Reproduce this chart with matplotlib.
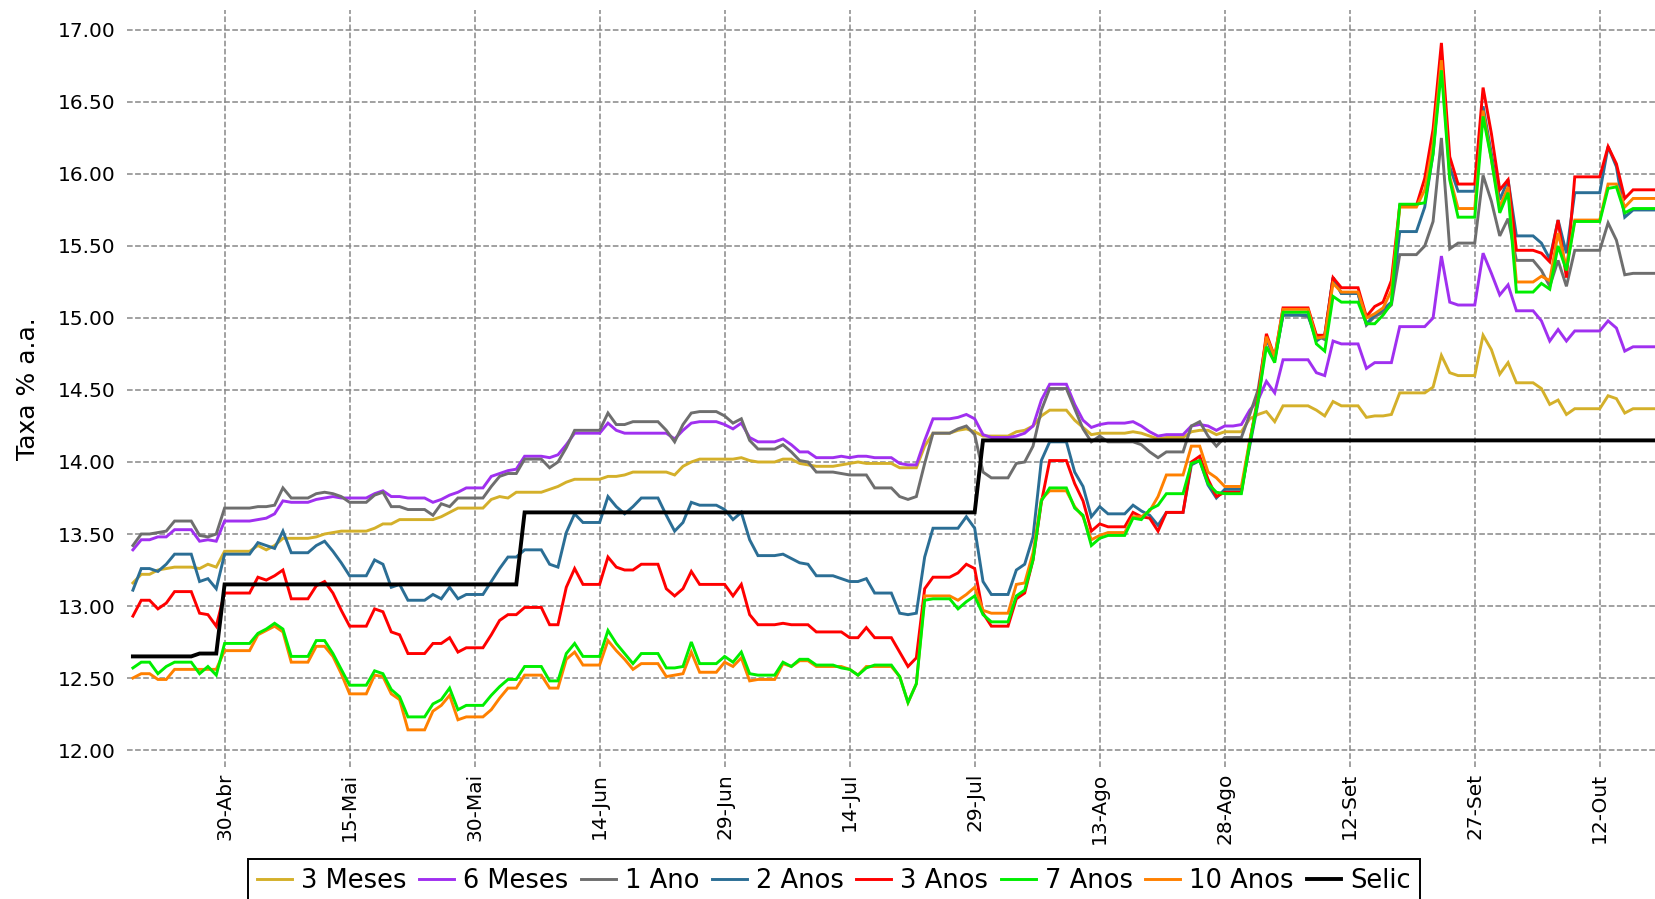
import matplotlib
matplotlib.use("Agg")
import matplotlib.pyplot as plt
import pandas as pd

# ---------------- data (daily, 2015-04-19 .. 2015-10-19) ----------------
start_date = "2015-04-19"
end_date = "2015-10-19"

meses3 = [
    13.16, 13.22, 13.22, 13.25, 13.26, 13.27, 13.27,
    13.27, 13.26, 13.29, 13.27, 13.38, 13.38, 13.38,
    13.38, 13.42, 13.39, 13.42, 13.47, 13.47, 13.47,
    13.47, 13.48, 13.50, 13.51, 13.52, 13.52, 13.52,
    13.52, 13.54, 13.57, 13.57, 13.60, 13.60, 13.60,
    13.60, 13.60, 13.62, 13.65, 13.68, 13.68, 13.68,
    13.68, 13.74, 13.76, 13.75, 13.79, 13.79, 13.79,
    13.79, 13.81, 13.83, 13.86, 13.88, 13.88, 13.88,
    13.88, 13.90, 13.90, 13.91, 13.93, 13.93, 13.93,
    13.93, 13.93, 13.91, 13.97, 14.00, 14.02, 14.02,
    14.02, 14.02, 14.02, 14.03, 14.01, 14.00, 14.00,
    14.00, 14.02, 14.02, 13.99, 13.98, 13.97, 13.97,
    13.97, 13.98, 13.99, 14.00, 13.99, 13.99, 13.99,
    13.99, 13.96, 13.96, 13.96, 14.11, 14.20, 14.20,
    14.20, 14.22, 14.23, 14.21, 14.18, 14.18, 14.18,
    14.18, 14.21, 14.22, 14.25, 14.32, 14.36, 14.36,
    14.36, 14.29, 14.24, 14.19, 14.20, 14.20, 14.20,
    14.20, 14.21, 14.20, 14.18, 14.16, 14.17, 14.17,
    14.17, 14.21, 14.22, 14.22, 14.19, 14.21, 14.21,
    14.21, 14.30, 14.33, 14.35, 14.28, 14.39, 14.39,
    14.39, 14.39, 14.36, 14.32, 14.42, 14.39, 14.39,
    14.39, 14.31, 14.32, 14.32, 14.33, 14.48, 14.48,
    14.48, 14.48, 14.52, 14.74, 14.62, 14.60, 14.60,
    14.60, 14.88, 14.78, 14.61, 14.69, 14.55, 14.55,
    14.55, 14.51, 14.40, 14.43, 14.33, 14.37, 14.37,
    14.37, 14.37, 14.46, 14.44, 14.34, 14.37, 14.37,
    14.37, 14.37,
]

meses6 = [
    13.39, 13.46, 13.46, 13.48, 13.48, 13.53, 13.53,
    13.53, 13.45, 13.46, 13.45, 13.59, 13.59, 13.59,
    13.59, 13.60, 13.61, 13.64, 13.73, 13.72, 13.72,
    13.72, 13.74, 13.75, 13.76, 13.75, 13.75, 13.75,
    13.75, 13.78, 13.80, 13.76, 13.76, 13.75, 13.75,
    13.75, 13.72, 13.74, 13.77, 13.79, 13.82, 13.82,
    13.82, 13.90, 13.92, 13.94, 13.95, 14.04, 14.04,
    14.04, 14.03, 14.05, 14.12, 14.20, 14.20, 14.20,
    14.20, 14.27, 14.22, 14.20, 14.20, 14.20, 14.20,
    14.20, 14.20, 14.16, 14.22, 14.27, 14.28, 14.28,
    14.28, 14.26, 14.23, 14.27, 14.17, 14.14, 14.14,
    14.14, 14.16, 14.12, 14.07, 14.07, 14.03, 14.03,
    14.03, 14.04, 14.03, 14.04, 14.04, 14.03, 14.03,
    14.03, 13.99, 13.98, 13.98, 14.15, 14.30, 14.30,
    14.30, 14.31, 14.33, 14.30, 14.19, 14.17, 14.17,
    14.17, 14.18, 14.20, 14.25, 14.43, 14.54, 14.54,
    14.54, 14.40, 14.29, 14.24, 14.26, 14.27, 14.27,
    14.27, 14.28, 14.25, 14.21, 14.18, 14.19, 14.19,
    14.19, 14.25, 14.26, 14.25, 14.22, 14.25, 14.25,
    14.26, 14.36, 14.43, 14.56, 14.48, 14.71, 14.71,
    14.71, 14.71, 14.62, 14.60, 14.84, 14.82, 14.82,
    14.82, 14.65, 14.69, 14.69, 14.69, 14.94, 14.94,
    14.94, 14.94, 15.00, 15.43, 15.11, 15.09, 15.09,
    15.09, 15.45, 15.31, 15.16, 15.23, 15.05, 15.05,
    15.05, 14.98, 14.84, 14.92, 14.84, 14.91, 14.91,
    14.91, 14.91, 14.98, 14.93, 14.77, 14.80, 14.80,
    14.80, 14.80,
]

ano1 = [
    13.42, 13.50, 13.50, 13.51, 13.52, 13.59, 13.59,
    13.59, 13.49, 13.48, 13.50, 13.68, 13.68, 13.68,
    13.68, 13.69, 13.69, 13.70, 13.82, 13.75, 13.75,
    13.75, 13.78, 13.79, 13.78, 13.76, 13.72, 13.72,
    13.72, 13.77, 13.79, 13.69, 13.69, 13.67, 13.67,
    13.67, 13.63, 13.71, 13.69, 13.75, 13.75, 13.75,
    13.75, 13.83, 13.90, 13.92, 13.92, 14.02, 14.02,
    14.02, 13.96, 14.00, 14.10, 14.22, 14.22, 14.22,
    14.22, 14.34, 14.26, 14.26, 14.28, 14.28, 14.28,
    14.28, 14.22, 14.14, 14.26, 14.34, 14.35, 14.35,
    14.35, 14.32, 14.27, 14.30, 14.15, 14.09, 14.09,
    14.09, 14.12, 14.07, 14.01, 14.00, 13.93, 13.93,
    13.93, 13.92, 13.91, 13.91, 13.91, 13.82, 13.82,
    13.82, 13.76, 13.74, 13.76, 13.99, 14.20, 14.20,
    14.20, 14.23, 14.25, 14.19, 13.93, 13.89, 13.89,
    13.89, 13.99, 14.00, 14.11, 14.36, 14.51, 14.51,
    14.51, 14.37, 14.23, 14.14, 14.18, 14.14, 14.14,
    14.14, 14.14, 14.12, 14.07, 14.03, 14.07, 14.07,
    14.07, 14.25, 14.28, 14.18, 14.11, 14.17, 14.17,
    14.17, 14.33, 14.50, 14.86, 14.72, 15.02, 15.02,
    15.02, 15.01, 14.88, 14.85, 15.28, 15.17, 15.17,
    15.17, 14.95, 15.01, 15.04, 15.09, 15.44, 15.44,
    15.44, 15.50, 15.67, 16.25, 15.48, 15.52, 15.52,
    15.52, 15.99, 15.81, 15.57, 15.69, 15.40, 15.40,
    15.40, 15.33, 15.22, 15.40, 15.22, 15.47, 15.47,
    15.47, 15.47, 15.66, 15.54, 15.30, 15.31, 15.31,
    15.31, 15.31,
]

anos2 = [
    13.11, 13.26, 13.26, 13.24, 13.29, 13.36, 13.36,
    13.36, 13.17, 13.19, 13.12, 13.36, 13.36, 13.36,
    13.36, 13.44, 13.42, 13.40, 13.52, 13.37, 13.37,
    13.37, 13.42, 13.45, 13.38, 13.30, 13.21, 13.21,
    13.21, 13.32, 13.29, 13.13, 13.15, 13.04, 13.04,
    13.04, 13.08, 13.05, 13.13, 13.05, 13.08, 13.08,
    13.08, 13.17, 13.26, 13.34, 13.34, 13.39, 13.39,
    13.39, 13.29, 13.27, 13.51, 13.64, 13.58, 13.58,
    13.58, 13.76, 13.69, 13.64, 13.69, 13.75, 13.75,
    13.75, 13.63, 13.52, 13.58, 13.72, 13.70, 13.70,
    13.70, 13.67, 13.60, 13.65, 13.46, 13.35, 13.35,
    13.35, 13.36, 13.33, 13.30, 13.29, 13.21, 13.21,
    13.21, 13.19, 13.17, 13.17, 13.19, 13.09, 13.09,
    13.09, 12.95, 12.94, 12.95, 13.34, 13.54, 13.54,
    13.54, 13.54, 13.62, 13.54, 13.17, 13.08, 13.08,
    13.08, 13.25, 13.29, 13.48, 14.01, 14.14, 14.14,
    14.14, 13.93, 13.83, 13.62, 13.69, 13.64, 13.64,
    13.64, 13.70, 13.66, 13.63, 13.56, 13.65, 13.65,
    13.65, 13.98, 14.01, 13.84, 13.75, 13.81, 13.81,
    13.81, 14.11, 14.41, 14.86, 14.71, 15.02, 15.02,
    15.02, 15.02, 14.84, 14.88, 15.28, 15.17, 15.17,
    15.17, 14.96, 15.02, 15.06, 15.11, 15.60, 15.60,
    15.60, 15.77, 16.14, 16.80, 16.05, 15.88, 15.88,
    15.88, 16.47, 16.14, 15.82, 15.96, 15.57, 15.57,
    15.57, 15.52, 15.41, 15.68, 15.45, 15.87, 15.87,
    15.87, 15.87, 16.19, 16.05, 15.70, 15.75, 15.75,
    15.75, 15.75,
]

anos3 = [
    12.93, 13.04, 13.04, 12.98, 13.02, 13.10, 13.10,
    13.10, 12.95, 12.94, 12.86, 13.09, 13.09, 13.09,
    13.09, 13.20, 13.18, 13.21, 13.25, 13.05, 13.05,
    13.05, 13.14, 13.17, 13.09, 12.97, 12.86, 12.86,
    12.86, 12.98, 12.96, 12.82, 12.80, 12.67, 12.67,
    12.67, 12.74, 12.74, 12.78, 12.68, 12.71, 12.71,
    12.71, 12.80, 12.90, 12.94, 12.94, 12.99, 12.99,
    12.99, 12.87, 12.87, 13.13, 13.26, 13.15, 13.15,
    13.15, 13.34, 13.27, 13.25, 13.25, 13.29, 13.29,
    13.29, 13.12, 13.07, 13.12, 13.24, 13.15, 13.15,
    13.15, 13.15, 13.07, 13.15, 12.94, 12.87, 12.87,
    12.87, 12.88, 12.87, 12.87, 12.87, 12.82, 12.82,
    12.82, 12.82, 12.78, 12.78, 12.85, 12.78, 12.78,
    12.78, 12.68, 12.58, 12.64, 13.12, 13.20, 13.20,
    13.20, 13.23, 13.29, 13.26, 12.95, 12.86, 12.86,
    12.86, 13.05, 13.09, 13.32, 13.72, 14.01, 14.01,
    14.01, 13.85, 13.73, 13.52, 13.57, 13.55, 13.55,
    13.55, 13.65, 13.62, 13.61, 13.52, 13.65, 13.65,
    13.65, 14.00, 14.04, 13.88, 13.76, 13.79, 13.79,
    13.79, 14.14, 14.45, 14.89, 14.73, 15.07, 15.07,
    15.07, 15.07, 14.88, 14.88, 15.28, 15.21, 15.21,
    15.21, 15.01, 15.08, 15.11, 15.26, 15.78, 15.78,
    15.78, 15.97, 16.31, 16.91, 16.12, 15.93, 15.93,
    15.93, 16.60, 16.28, 15.89, 15.96, 15.47, 15.47,
    15.47, 15.45, 15.39, 15.68, 15.28, 15.98, 15.98,
    15.98, 15.98, 16.19, 16.07, 15.83, 15.89, 15.89,
    15.89, 15.89,
]

anos7 = [
    12.57, 12.61, 12.61, 12.53, 12.58, 12.61, 12.61,
    12.61, 12.53, 12.58, 12.52, 12.74, 12.74, 12.74,
    12.74, 12.81, 12.84, 12.88, 12.84, 12.65, 12.65,
    12.65, 12.76, 12.76, 12.67, 12.56, 12.45, 12.45,
    12.45, 12.55, 12.53, 12.42, 12.37, 12.23, 12.23,
    12.23, 12.32, 12.35, 12.43, 12.28, 12.31, 12.31,
    12.31, 12.38, 12.44, 12.49, 12.49, 12.58, 12.58,
    12.58, 12.48, 12.48, 12.67, 12.74, 12.65, 12.65,
    12.65, 12.83, 12.74, 12.67, 12.60, 12.67, 12.67,
    12.67, 12.57, 12.57, 12.58, 12.75, 12.60, 12.60,
    12.60, 12.65, 12.61, 12.68, 12.53, 12.52, 12.52,
    12.52, 12.61, 12.58, 12.63, 12.63, 12.59, 12.59,
    12.59, 12.57, 12.56, 12.52, 12.57, 12.59, 12.59,
    12.59, 12.51, 12.33, 12.46, 13.04, 13.05, 13.05,
    13.05, 12.98, 13.03, 13.07, 12.94, 12.89, 12.89,
    12.89, 13.07, 13.11, 13.32, 13.73, 13.82, 13.82,
    13.82, 13.68, 13.63, 13.42, 13.47, 13.49, 13.49,
    13.49, 13.61, 13.60, 13.67, 13.70, 13.78, 13.78,
    13.78, 13.99, 14.01, 13.85, 13.79, 13.78, 13.78,
    13.78, 14.13, 14.43, 14.80, 14.69, 15.04, 15.04,
    15.04, 15.04, 14.82, 14.77, 15.15, 15.11, 15.11,
    15.11, 14.96, 14.96, 15.02, 15.10, 15.79, 15.79,
    15.79, 15.80, 16.14, 16.72, 15.96, 15.70, 15.70,
    15.70, 16.40, 16.10, 15.73, 15.87, 15.18, 15.18,
    15.18, 15.24, 15.20, 15.50, 15.33, 15.67, 15.67,
    15.67, 15.67, 15.90, 15.91, 15.73, 15.76, 15.76,
    15.76, 15.76,
]

anos10 = [
    12.50, 12.53, 12.53, 12.49, 12.49, 12.56, 12.56,
    12.56, 12.56, 12.56, 12.56, 12.69, 12.69, 12.69,
    12.69, 12.80, 12.83, 12.86, 12.82, 12.61, 12.61,
    12.61, 12.72, 12.72, 12.65, 12.53, 12.39, 12.39,
    12.39, 12.52, 12.51, 12.39, 12.35, 12.14, 12.14,
    12.14, 12.27, 12.31, 12.38, 12.21, 12.23, 12.23,
    12.23, 12.28, 12.36, 12.43, 12.43, 12.52, 12.52,
    12.52, 12.43, 12.43, 12.63, 12.68, 12.59, 12.59,
    12.59, 12.76, 12.69, 12.63, 12.56, 12.60, 12.60,
    12.60, 12.51, 12.52, 12.53, 12.68, 12.54, 12.54,
    12.54, 12.61, 12.58, 12.64, 12.48, 12.49, 12.49,
    12.49, 12.60, 12.58, 12.62, 12.62, 12.58, 12.58,
    12.58, 12.58, 12.56, 12.52, 12.58, 12.58, 12.58,
    12.58, 12.51, 12.33, 12.46, 13.07, 13.07, 13.07,
    13.07, 13.04, 13.08, 13.13, 12.97, 12.95, 12.95,
    12.95, 13.15, 13.16, 13.37, 13.74, 13.80, 13.80,
    13.80, 13.69, 13.62, 13.46, 13.49, 13.51, 13.51,
    13.51, 13.62, 13.62, 13.66, 13.76, 13.91, 13.91,
    13.91, 14.11, 14.11, 13.93, 13.89, 13.83, 13.83,
    13.83, 14.15, 14.43, 14.87, 14.73, 15.06, 15.06,
    15.06, 15.06, 14.86, 14.87, 15.24, 15.18, 15.18,
    15.18, 15.00, 15.03, 15.07, 15.19, 15.77, 15.77,
    15.77, 15.89, 16.21, 16.79, 15.98, 15.76, 15.76,
    15.76, 16.44, 16.10, 15.77, 15.91, 15.25, 15.25,
    15.25, 15.29, 15.26, 15.59, 15.35, 15.68, 15.68,
    15.68, 15.68, 15.93, 15.93, 15.77, 15.83, 15.83,
    15.83, 15.83,
]

selic = [12.65] * 8 + [12.67] * 3 + [13.15] * 36 + [13.65] * 55 + [14.15] * 82

series_labels = ["3 Meses", "6 Meses", "1 Ano", "2 Anos", "3 Anos", "7 Anos", "10 Anos", "Selic"]
series_colors = ["#d4b02a", "#a030f0", "#6e6e6e", "#2b6e95", "#ff0000", "#00ee00", "#ff8000", "#000000"]

xtick_dates = ["2015-04-30", "2015-05-15", "2015-05-30", "2015-06-14", "2015-06-29", "2015-07-14",
               "2015-07-29", "2015-08-13", "2015-08-28", "2015-09-12", "2015-09-27", "2015-10-12"]
xtick_labels = ["30-Abr", "15-Mai", "30-Mai", "14-Jun", "29-Jun", "14-Jul",
                "29-Jul", "13-Ago", "28-Ago", "12-Set", "27-Set", "12-Out"]
ytick_values = [12.0, 12.5, 13.0, 13.5, 14.0, 14.5, 15.0, 15.5, 16.0, 16.5, 17.0]

# ---------------- figure ----------------
W, H = 1656, 899
fig = plt.figure(figsize=(W / 100, H / 100), dpi=100)
ax_left_px, ax_right_px = 127, 1664
ax_top_px, ax_bot_px = 9.8, 767.3
ax = fig.add_axes([ax_left_px / W, 1 - ax_bot_px / H,
                   (ax_right_px - ax_left_px) / W, (ax_bot_px - ax_top_px) / H])

dates = pd.date_range(start_date, end_date, freq="D")
all_series = [meses3, meses6, ano1, anos2, anos3, anos7, anos10, selic]
zorders = [2.0, 2.1, 2.2, 2.3, 2.4, 2.6, 2.5, 2.8]
handles = []
for vals, lab, col, z in zip(all_series, series_labels, series_colors, zorders):
    lw = 2.8 if lab == "Selic" else 2.1
    h, = ax.plot(dates, vals, color=col, lw=lw, label=lab, zorder=z, solid_joinstyle="miter")
    handles.append(h)

ax.set_xlim(pd.Timestamp(start_date) - pd.Timedelta(hours=17),
            pd.Timestamp(end_date) + pd.Timedelta(hours=17))
ax.set_ylim(11.88, 17.14)

ax.set_xticks(pd.to_datetime(xtick_dates))
ax.set_xticklabels(xtick_labels, rotation=90, fontsize=14.5)
ax.set_yticks(ytick_values)
ax.set_yticklabels([f"{v:.2f}" for v in ytick_values], fontsize=14.5)
ax.tick_params(axis="both", length=0)
ax.tick_params(axis="y", pad=8)
ax.tick_params(axis="x", pad=4)

ax.grid(True, color="#888888", linestyle="--", linewidth=1.1)
ax.set_axisbelow(True)
for s in ax.spines.values():
    s.set_visible(False)

ax.set_ylabel("Taxa % a.a.", fontsize=18, labelpad=13)

leg = fig.legend(handles, series_labels, loc="upper center",
                 bbox_to_anchor=(834 / W, 1 - 859 / H), ncol=8, fontsize=18.5,
                 frameon=True, fancybox=False, edgecolor="black", framealpha=1,
                 handlelength=1.35, handletextpad=0.35, columnspacing=0.5,
                 borderpad=0.35, borderaxespad=0)
leg.get_frame().set_linewidth(1.4)

fig.savefig("out.png", dpi=100)
